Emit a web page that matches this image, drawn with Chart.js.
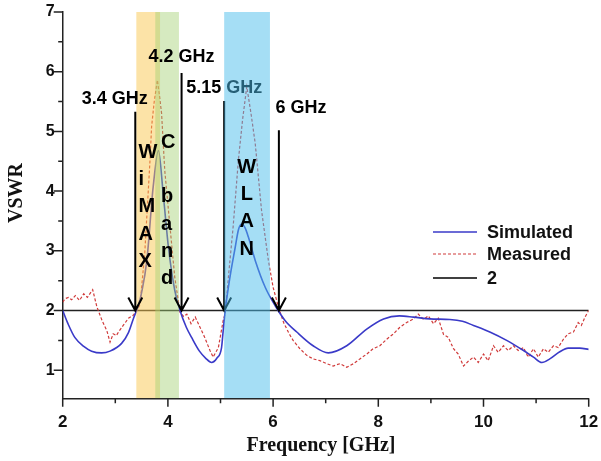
<!DOCTYPE html>
<html><head><meta charset="utf-8">
<script src="https://cdn.jsdelivr.net/npm/chart.js@4.4.0/dist/chart.umd.min.js"></script>
<style>html,body{margin:0;padding:0;background:#fff;}#wrap{width:601px;height:461px;}</style>
</head><body><div id="wrap"><canvas id="c" width="601" height="461"></canvas></div>
<script>
// ---- data ----
const simFreq = [2.0,2.1,2.23,2.4,2.55,2.74,2.9,3.12,3.25,3.35,3.43,3.5,3.6,3.72,3.82,3.91,4.01,4.13,4.23,4.35,4.45,4.6,4.72,4.83,4.93,5.02,5.05,5.09,5.18,5.28,5.34,5.4,5.47,5.53,5.66,5.85,6.04,6.23,6.45,6.76,7.05,7.4,7.78,8.1,8.4,8.67,8.98,9.36,9.6,9.81,10.12,10.44,10.76,10.95,11.11,11.26,11.45,11.61,11.83,12.0];
const simVswr = [2.0,1.78,1.55,1.4,1.32,1.29,1.32,1.45,1.63,1.88,2.06,2.3,2.84,4.07,4.68,3.96,3.06,2.34,2.0,1.72,1.55,1.32,1.2,1.13,1.2,1.38,1.65,2.0,2.56,3.06,3.35,3.45,3.38,3.23,2.84,2.39,2.08,1.83,1.64,1.41,1.29,1.41,1.69,1.86,1.91,1.89,1.86,1.85,1.82,1.75,1.64,1.5,1.33,1.22,1.13,1.19,1.31,1.37,1.37,1.35];
const measFreq = [2.0,2.05,2.11,2.17,2.24,2.32,2.4,2.47,2.57,2.65,2.75,2.84,2.9,2.96,3.02,3.06,3.15,3.25,3.34,3.41,3.47,3.56,3.66,3.69,3.74,3.8,3.84,3.88,3.94,4.04,4.13,4.23,4.3,4.36,4.44,4.52,4.61,4.7,4.8,4.86,4.96,5.05,5.09,5.15,5.24,5.34,5.42,5.5,5.58,5.66,5.78,5.91,6.0,6.1,6.2,6.3,6.38,6.51,6.64,6.76,6.89,7.02,7.14,7.27,7.4,7.53,7.65,7.78,7.9,8.03,8.16,8.29,8.41,8.54,8.67,8.76,8.86,8.95,9.05,9.14,9.24,9.33,9.43,9.52,9.62,9.71,9.81,9.9,10.0,10.09,10.19,10.28,10.38,10.47,10.57,10.66,10.76,10.85,10.95,11.04,11.14,11.23,11.33,11.42,11.52,11.61,11.71,11.8,11.86,11.93,12.0];
const measVswr = [2.14,2.2,2.22,2.18,2.25,2.17,2.28,2.22,2.35,2.06,1.83,1.66,1.47,1.61,1.58,1.64,1.75,1.87,1.92,2.0,2.1,2.96,4.52,5.08,5.5,5.86,5.6,5.3,4.35,3.4,2.56,1.97,1.9,1.94,1.78,1.89,1.72,1.55,1.33,1.22,1.38,1.83,1.95,2.56,3.4,4.52,5.2,5.75,5.3,4.8,3.68,2.84,2.39,2.06,1.8,1.62,1.5,1.36,1.25,1.19,1.16,1.11,1.07,1.11,1.05,1.11,1.19,1.27,1.36,1.41,1.52,1.61,1.72,1.8,1.86,1.94,1.85,1.91,1.78,1.87,1.6,1.55,1.36,1.27,1.07,1.15,1.22,1.13,1.27,1.16,1.41,1.3,1.41,1.33,1.41,1.33,1.38,1.22,1.36,1.22,1.36,1.3,1.41,1.38,1.52,1.61,1.64,1.8,1.75,1.89,2.0];
const refFreq = [2, 12];
const refVswr = [2, 2];
const seriesNames = ['Simulated', 'Measured', '2'];
const xTicks = [2, 4, 6, 8, 10, 12];
const xMinor = [3, 5, 7, 9, 11];
const yTicks = [1, 2, 3, 4, 5, 6, 7];
const yMinor = [1.5, 2.5, 3.5, 4.5, 5.5, 6.5];
const bandNames = ['WiMAX', 'C band', 'WLAN'];
const bandStart = [3.4, 3.76, 5.07];
const bandEnd = [3.85, 4.21, 5.94];
const markerFreq = [3.38, 4.26, 5.07, 6.11];
const markerTop = [5.33, 5.98, 5.51, 5.02];
const markerLabels = ['3.4 GHz', '4.2 GHz', '5.15 GHz', '6 GHz'];

// ---- styles ----
const SIM_COLOR = '#3a3ac8';
const MEAS_COLOR = '#d03a3a';
const REF_COLOR = '#222';
const bandColors = ['rgba(250,200,80,0.5)', 'rgba(165,208,115,0.45)', 'rgba(75,190,235,0.5)'];
const SANS = '"Liberation Sans", Arial, sans-serif';
const SERIF = '"Liberation Serif", "Times New Roman", serif';
const labelDx = [-20.5, 0, 0, 22];
const labelDy = [-13, -16, -13, -22];
const bandTextPos = [[3.44, 4.65, 'left'], [3.87, 4.82, 'left'], [5.5, 4.40, 'center']];
const LETTER_STEP = 27.3;

const pts = (xs, ys) => xs.map((x, i) => ({x, y: ys[i]}));

function drawArrow(ctx, xs, ys, i) {
  const x = xs.getPixelForValue(markerFreq[i]);
  const yTop = ys.getPixelForValue(markerTop[i]);
  const yTip = ys.getPixelForValue(2);
  ctx.save();
  ctx.strokeStyle = '#000';
  ctx.lineWidth = 2;
  ctx.beginPath();
  ctx.moveTo(x, yTop); ctx.lineTo(x, yTip);
  ctx.moveTo(x - 7, yTip - 13); ctx.lineTo(x, yTip); ctx.lineTo(x + 7, yTip - 13);
  ctx.stroke();
  ctx.fillStyle = '#000';
  ctx.font = 'bold 18px ' + SANS;
  ctx.textAlign = 'center';
  ctx.textBaseline = 'middle';
  ctx.fillText(markerLabels[i], x + labelDx[i], yTop + labelDy[i]);
  ctx.restore();
}

const annot = {
  id: 'annot',
  afterDatasetsDraw(chart) {
    const {ctx, chartArea: ca, scales: {x: xs, y: ys}} = chart;
    drawArrow(ctx, xs, ys, 2);
    ctx.save();
    ctx.beginPath(); ctx.rect(ca.left, ca.top, ca.width, ca.height); ctx.clip();
    for (let i = 0; i < bandStart.length; i++) {
      const x0 = xs.getPixelForValue(bandStart[i]);
      const x1 = xs.getPixelForValue(bandEnd[i]);
      const yTop = ys.getPixelForValue(7);
      ctx.fillStyle = bandColors[i];
      ctx.fillRect(x0, yTop, x1 - x0, ca.bottom - yTop);
    }
    ctx.restore();
    [0, 1, 3].forEach(i => drawArrow(ctx, xs, ys, i));
    ctx.save();
    ctx.fillStyle = '#000';
    ctx.font = 'bold 20px ' + SANS;
    ctx.textBaseline = 'middle';
    bandNames.forEach((name, i) => {
      const [f, v, al] = bandTextPos[i];
      const x = xs.getPixelForValue(f);
      const y0 = ys.getPixelForValue(v);
      ctx.textAlign = al;
      name.split('').forEach((ch, k) => {
        if (ch !== ' ') ctx.fillText(ch, x, y0 + k * LETTER_STEP);
      });
    });
    ctx.restore();
  },
  afterDraw(chart) {
    const {ctx, chartArea: ca, scales: {x: xs, y: ys}} = chart;
    ctx.save();
    ctx.strokeStyle = '#222';
    ctx.lineWidth = 1.5;
    ctx.beginPath();
    yTicks.forEach(v => { const y = ys.getPixelForValue(v); ctx.moveTo(ca.left - 9, y); ctx.lineTo(ca.left, y); });
    yMinor.forEach(v => { const y = ys.getPixelForValue(v); ctx.moveTo(ca.left - 4.5, y); ctx.lineTo(ca.left, y); });
    xTicks.forEach(v => { const x = xs.getPixelForValue(v); ctx.moveTo(x, ca.bottom); ctx.lineTo(x, ca.bottom + 8.5); });
    xMinor.forEach(v => { const x = xs.getPixelForValue(v); ctx.moveTo(x, ca.bottom); ctx.lineTo(x, ca.bottom + 5); });
    ctx.stroke();
    ctx.fillStyle = '#111';
    ctx.font = 'bold 20px ' + SERIF;
    ctx.textAlign = 'center';
    ctx.textBaseline = 'middle';
    ctx.fillText('Frequency [GHz]', 321, 446);
    ctx.save();
    ctx.translate(17, 193);
    ctx.rotate(-Math.PI / 2);
    ctx.fillText('VSWR', 0, 0);
    ctx.restore();
    const styles = [
      {c: SIM_COLOR, w: 1.6, d: []},
      {c: MEAS_COLOR, w: 1.2, d: [3, 2]},
      {c: '#000', w: 1.6, d: []}
    ];
    const ly = [232, 254, 278];
    ctx.font = 'bold 18px ' + SANS;
    ctx.textAlign = 'left';
    seriesNames.forEach((n, i) => {
      ctx.strokeStyle = styles[i].c;
      ctx.lineWidth = styles[i].w;
      ctx.setLineDash(styles[i].d);
      ctx.beginPath(); ctx.moveTo(433, ly[i]); ctx.lineTo(477, ly[i]); ctx.stroke();
      ctx.setLineDash([]);
      ctx.fillStyle = '#111';
      ctx.fillText(n, 487, ly[i] + 1);
    });
    ctx.restore();
  }
};

new Chart(document.getElementById('c'), {
  type: 'scatter',
  data: {
    datasets: [
      {label: seriesNames[0], data: pts(simFreq, simVswr), showLine: true, borderColor: SIM_COLOR, borderWidth: 1.6, pointRadius: 0, cubicInterpolationMode: 'monotone'},
      {label: seriesNames[1], data: pts(measFreq, measVswr), showLine: true, borderColor: MEAS_COLOR, borderWidth: 1.2, borderDash: [3, 2], pointRadius: 0, tension: 0},
      {label: seriesNames[2], data: pts(refFreq, refVswr), showLine: true, borderColor: REF_COLOR, borderWidth: 1.5, pointRadius: 0}
    ]
  },
  options: {
    responsive: false,
    animation: false,
    devicePixelRatio: 1,
    layout: {padding: {top: 12, right: 12.3, left: 0, bottom: 0}},
    plugins: {legend: {display: false}, tooltip: {enabled: false}},
    scales: {
      x: {
        type: 'linear', min: 2, max: 12,
        afterBuildTicks: s => { s.ticks = xTicks.map(v => ({value: v})); },
        afterFit: s => { s.height = 62.7; s.paddingLeft = 0; s.paddingRight = 0; },
        grid: {display: false, drawTicks: false},
        border: {display: true, color: '#222', width: 1.5},
        ticks: {color: '#111', font: {family: SANS, size: 17, weight: 'bold'}, padding: 14, maxRotation: 0}
      },
      y: {
        type: 'linear', min: 0.53, max: 7,
        afterBuildTicks: s => { s.ticks = yTicks.map(v => ({value: v})); },
        afterFit: s => { s.width = 62.7; s.paddingTop = 0; s.paddingBottom = 0; },
        grid: {display: false, drawTicks: false},
        border: {display: true, color: '#222', width: 1.5},
        ticks: {color: '#111', font: {family: SANS, size: 16, weight: 'bold'}, padding: 8}
      }
    }
  },
  plugins: [annot]
});
</script>
</body></html>
